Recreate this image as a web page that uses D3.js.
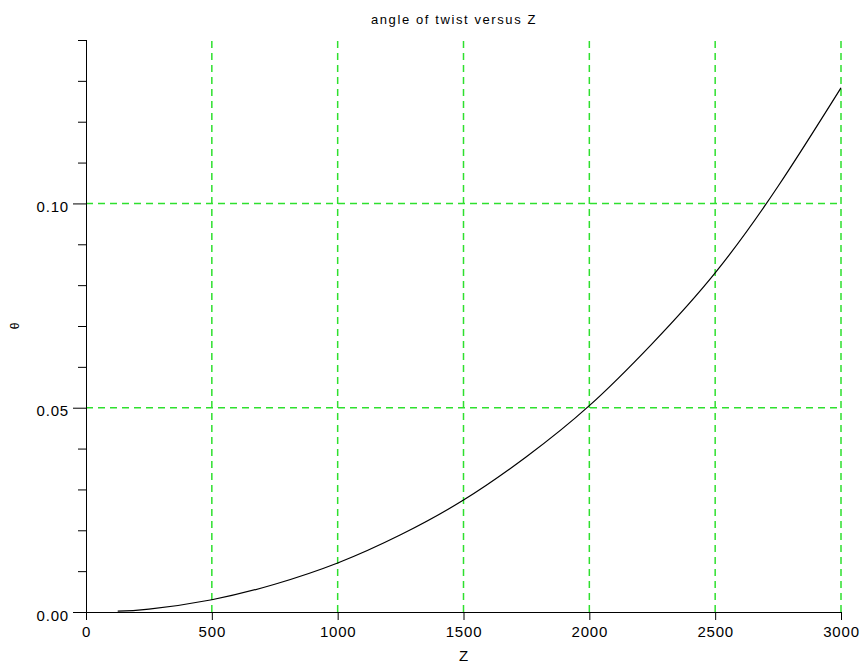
<!DOCTYPE html>
<html>
<head>
<meta charset="utf-8">
<script src="https://cdn.jsdelivr.net/npm/d3@7"></script>
<style>
  html, body { margin: 0; padding: 0; background: #ffffff; }
  svg { display: block; }
  text { font-family: "Liberation Sans", Arial, sans-serif; fill: #000; }
</style>
</head>
<body>
<div id="chart"></div>
<script>
// ---- data ----
const zValues     = [126, 250, 500, 750, 1000, 1250, 1500, 1750, 2000, 2250, 2500, 2750, 3000];
const thetaValues = [0.0002, 0.0007, 0.0030, 0.0068, 0.0120, 0.0189, 0.0274, 0.0380, 0.0505, 0.0657, 0.0830, 0.1042, 0.1283];
const xTicks      = [0, 500, 1000, 1500, 2000, 2500, 3000];
const yMajorTicks = [0.00, 0.05, 0.10];
const yMinorTicks = [0.01, 0.02, 0.03, 0.04, 0.06, 0.07, 0.08, 0.09, 0.11, 0.12, 0.13, 0.14];
const xGrid       = [500, 1000, 1500, 2000, 2500, 3000];
const yGrid       = [0.05, 0.10];
const titleText   = "angle of twist versus Z";
const xLabel      = "Z";
const yLabel      = "θ";

const W = 862, H = 666;
const margin = { left: 86, right: 21, top: 40, bottom: 54 };

const svg = d3.select("#chart").append("svg")
  .attr("width", W).attr("height", H);

const x = d3.scaleLinear().domain([0, 3000]).range([margin.left, W - margin.right]);
const y = d3.scaleLinear().domain([0, 0.14]).range([H - margin.bottom, margin.top]);

const gridColor = "#2ee02e";

// grid
svg.append("g").selectAll("line").data(xGrid).join("line")
  .attr("x1", d => x(d)).attr("x2", d => x(d))
  .attr("y1", y(0)).attr("y2", y(0.14))
  .attr("stroke", gridColor).attr("stroke-width", 1.5)
  .attr("stroke-dasharray", "7,5");
svg.append("g").selectAll("line").data(yGrid).join("line")
  .attr("x1", x(0)).attr("x2", x(3000))
  .attr("y1", d => y(d)).attr("y2", d => y(d))
  .attr("stroke", gridColor).attr("stroke-width", 1.5)
  .attr("stroke-dasharray", "7,5");

// x axis
const xAxis = d3.axisBottom(x).tickValues(xTicks).tickSize(8).tickPadding(6)
  .tickFormat(d3.format("d"));
const gx = svg.append("g").attr("transform", `translate(0,${y(0)})`).call(xAxis);
gx.select(".domain").attr("d", `M${x(0)},0.5H${x(3000)}`).attr("stroke", "#000");
gx.selectAll(".tick line").attr("stroke", "#000");
gx.selectAll("text").style("font-size", "15px").style("letter-spacing", "0.8px")
  .style("font-family", "'Liberation Sans', Arial, sans-serif");

// y axis (major)
const yAxis = d3.axisLeft(y).tickValues(yMajorTicks).tickSize(13).tickPadding(4)
  .tickFormat(d3.format(".2f"));
const gy = svg.append("g").attr("transform", `translate(${x(0)},0)`).call(yAxis);
gy.select(".domain").attr("d", `M0.5,${y(0)}V${y(0.14)}`).attr("stroke", "#000");
gy.selectAll(".tick line").attr("stroke", "#000");
gy.selectAll("text").style("font-size", "15px").style("letter-spacing", "0.8px")
  .attr("dy", "0.55em")
  .style("font-family", "'Liberation Sans', Arial, sans-serif");

// y axis (minor)
const yAxisMinor = d3.axisLeft(y).tickValues(yMinorTicks).tickSize(8).tickFormat("");
const gym = svg.append("g").attr("transform", `translate(${x(0)},0)`).call(yAxisMinor);
gym.select(".domain").remove();
gym.selectAll(".tick line").attr("stroke", "#000");

// curve
const pts = zValues.map((z, i) => [z, thetaValues[i]]);
const line = d3.line().x(d => x(d[0])).y(d => y(d[1])).curve(d3.curveNatural);
svg.append("path").datum(pts)
  .attr("d", line)
  .attr("fill", "none").attr("stroke", "#000").attr("stroke-width", 1.2);

// title
svg.append("text").attr("x", 454).attr("y", 24)
  .attr("text-anchor", "middle")
  .style("font-size", "13px").style("letter-spacing", "1.6px")
  .text(titleText);

// axis labels
svg.append("text").attr("x", x(1500)).attr("y", 661)
  .attr("text-anchor", "middle").style("font-size", "15px")
  .text(xLabel);
svg.append("text")
  .attr("transform", `translate(19,${y(0.07)}) rotate(-90)`)
  .attr("text-anchor", "middle").style("font-size", "12px")
  .text(yLabel);
</script>
</body>
</html>
